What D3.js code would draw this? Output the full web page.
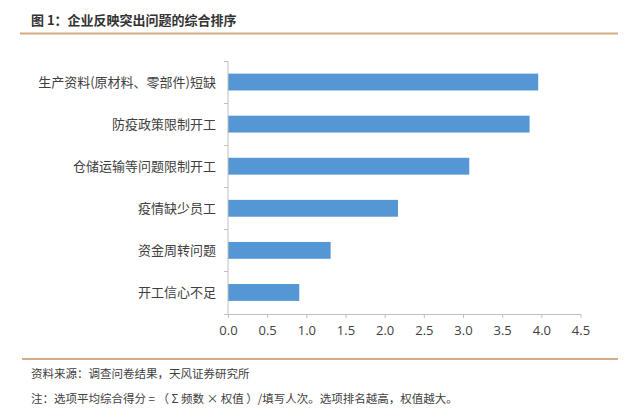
<!DOCTYPE html>
<html><head><meta charset="utf-8">
<script src="https://cdn.jsdelivr.net/npm/d3@7"></script>
<style>
html,body{margin:0;padding:0;background:#fff;}
svg{display:block;font-family:"Noto Sans CJK SC","Microsoft YaHei",sans-serif;}
</style></head>
<body><svg id="c" width="640" height="419"></svg>
<script>
const categories = ["生产资料(原材料、零部件)短缺","防疫政策限制开工","仓储运输等问题限制开工","疫情缺少员工","资金周转问题","开工信心不足"];
const values = [3.96, 3.85, 3.08, 2.17, 1.31, 0.91];
const xTicks = [0,0.5,1,1.5,2,2.5,3,3.5,4,4.5];
const titleText = "图 1：企业反映突出问题的综合排序";
const sourceText = "资料来源：调查问卷结果，天风证券研究所";
const noteText = "注：选项平均综合得分 = （ Σ  频数 × 权值 ）/填写人次。选项排名越高，权值越大。";

const svg = d3.select("#c");
svg.append("text").attr("x",31).attr("y",25).attr("font-size",13).attr("font-weight","bold").attr("fill","#333").text(titleText);
svg.append("line").attr("x1",20).attr("x2",618).attr("y1",33.5).attr("y2",33.5).attr("stroke","#d2a981").attr("stroke-width",2);

const x = d3.scaleLinear().domain([0,4.5]).range([228,580.5]);
const y = d3.scaleBand().domain(categories).range([61,313.5]).paddingInner(0.6).paddingOuter(0.3);

const g = svg.append("g");
g.selectAll("rect").data(values).join("rect")
 .attr("x", x(0)).attr("y",(d,i)=>y(categories[i]))
 .attr("width", d=>x(d)-x(0)).attr("height", y.bandwidth())
 .attr("fill","#5596d4");

// x axis
const xa = svg.append("g").attr("transform","translate(0,314)")
 .call(d3.axisBottom(x).tickValues(xTicks).tickFormat(d3.format(".1f")).tickSize(4).tickSizeOuter(0));
xa.select(".domain").attr("stroke","#bfbfbf");
xa.selectAll(".tick line").attr("stroke","#bfbfbf");
xa.selectAll(".tick text").attr("font-size",13).attr("fill","#404040").attr("dy","1.05em")
  .attr("font-family","Open Sans, Noto Sans, sans-serif");

// y axis line + ticks at band boundaries
const step = y.step();
const bounds = d3.range(categories.length+1).map(i=> y.range()[0] + i*step);
svg.append("line").attr("x1",x(0)).attr("x2",x(0)).attr("y1",61).attr("y2",314).attr("stroke","#bfbfbf");
svg.selectAll(".yt").data(bounds).join("line").attr("class","yt")
 .attr("x1",x(0)-4).attr("x2",x(0)).attr("y1",d=>Math.round(d)+0.5).attr("y2",d=>Math.round(d)+0.5).attr("stroke","#bfbfbf");
svg.selectAll(".yl").data(categories).join("text").attr("class","yl")
 .attr("x",216).attr("y",d=>y(d)+y.bandwidth()/2).attr("dy","0.35em")
 .attr("text-anchor","end").attr("font-size",13).attr("fill","#404040").text(d=>d);

svg.append("line").attr("x1",22).attr("x2",618).attr("y1",359).attr("y2",359).attr("stroke","#c8925a").attr("stroke-width",1.5);
svg.append("text").attr("x",31).attr("y",378).attr("font-size",11.5).attr("fill","#404040").text(sourceText);
svg.append("text").attr("x",31).attr("y",403).attr("font-size",11.5).attr("fill","#404040").text(noteText);
</script></body></html>
